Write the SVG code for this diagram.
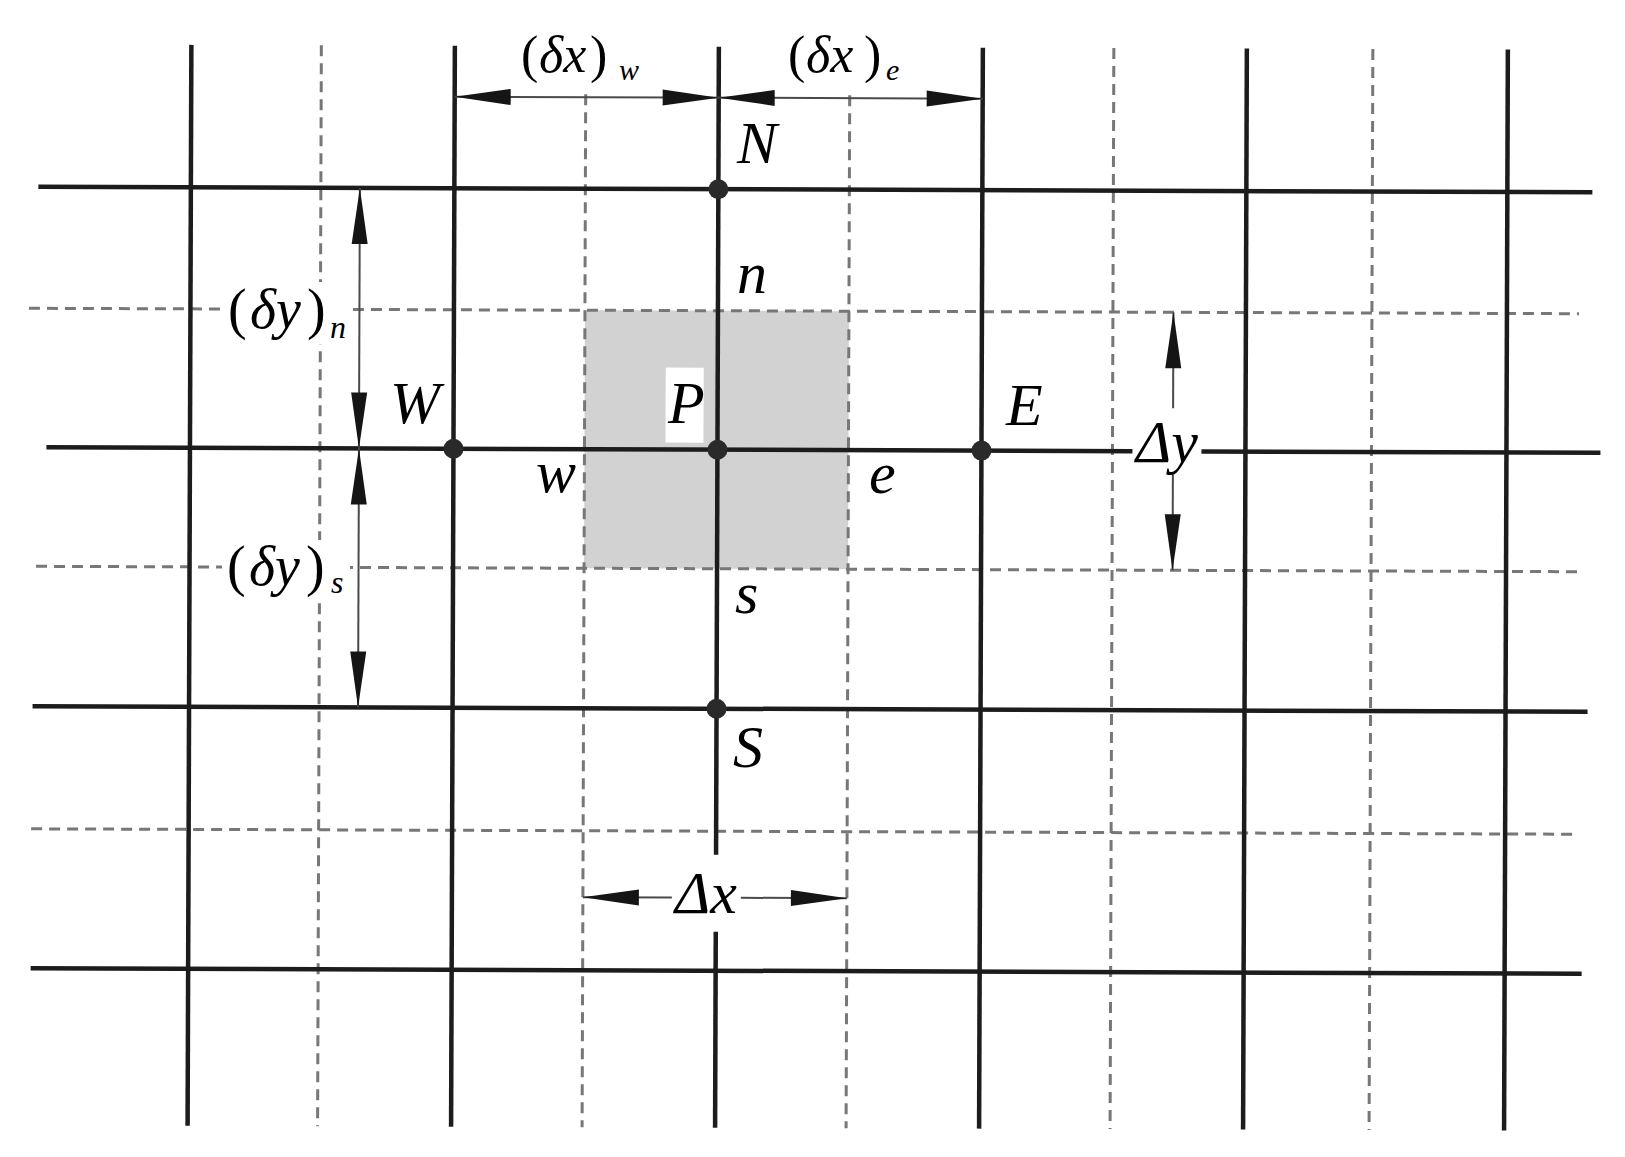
<svg xmlns="http://www.w3.org/2000/svg" width="1625" height="1157" viewBox="0 0 1625 1157">
<rect width="1625" height="1157" fill="#ffffff"/>
<g transform="rotate(0.2 800 580)">
<g id="control-volume">
<rect x="584" y="311" width="264" height="258" fill="#d2d2d2"/>
<rect x="665" y="368" width="38" height="75" fill="#ffffff"/>
</g>
<g id="grid" fill="none">
<g stroke="#777777" stroke-width="3" stroke-dasharray="11 7">
<line x1="319.5" y1="47" x2="319.5" y2="1128"/>
<line x1="584" y1="95" x2="584" y2="1128"/>
<line x1="848" y1="95" x2="848" y2="1128"/>
<line x1="1112" y1="47" x2="1112" y2="1128"/>
<line x1="1371" y1="47" x2="1371" y2="1128"/>
<line x1="28" y1="311" x2="1578" y2="311"/>
<line x1="36" y1="569" x2="1580" y2="569"/>
<line x1="32" y1="831.5" x2="1580" y2="831.5"/>
</g>
<g stroke="#1c1c1c" stroke-width="4.5">
<line x1="189.5" y1="47" x2="189.5" y2="1128"/>
<line x1="453" y1="47" x2="453" y2="1128"/>
<line x1="717" y1="47" x2="717" y2="855"/>
<line x1="717" y1="932" x2="717" y2="1128"/>
<line x1="981" y1="47" x2="981" y2="1128"/>
<line x1="1245" y1="47" x2="1245" y2="1128"/>
<line x1="1506" y1="47" x2="1506" y2="1128"/>
<line x1="37" y1="189.5" x2="1591" y2="189.5"/>
<line x1="46" y1="450" x2="1132" y2="450"/>
<line x1="1201" y1="450" x2="1600" y2="450"/>
<line x1="33" y1="709" x2="1588" y2="709"/>
<line x1="32" y1="971" x2="1583" y2="971"/>
</g>
</g>
<g id="connectors">
<g stroke="#4a4a4a" stroke-width="2" fill="none">
<line x1="453" y1="98" x2="981" y2="98"/>
<line x1="358.5" y1="189.5" x2="358.5" y2="709"/>
<line x1="584" y1="898" x2="673" y2="898"/>
<line x1="742" y1="898" x2="848" y2="898"/>
<line x1="1172.5" y1="311" x2="1172.5" y2="407"/>
<line x1="1172.5" y1="473" x2="1172.5" y2="569"/>
</g>
<g fill="#151515">
<polygon points="453,98 509,90 509,106"/>
<polygon points="717,98 661,90 661,106"/>
<polygon points="717,98 773,90 773,106"/>
<polygon points="981,98 925,90 925,106"/>
<polygon points="358.5,189.5 350.5,245.5 366.5,245.5"/>
<polygon points="358.5,450 350.5,394 366.5,394"/>
<polygon points="358.5,450 350.5,506 366.5,506"/>
<polygon points="358.5,709 350.5,653 366.5,653"/>
<polygon points="584,898 640,890 640,906"/>
<polygon points="848,898 792,890 792,906"/>
<polygon points="1172.5,311 1164.5,367 1180.5,367"/>
<polygon points="1172.5,569 1164.5,513 1180.5,513"/>
</g>
</g>
</g>
<g id="node-N"><circle cx="718.4" cy="189.2" r="10" fill="#2a2a2a"/><text x="737" y="163" font-family="Liberation Serif" font-style="italic" font-size="60">N</text></g>
<g id="node-W"><circle cx="453.5" cy="448.8" r="10" fill="#2a2a2a"/><text x="390" y="423" font-family="Liberation Serif" font-style="italic" font-size="60">W</text></g>
<g id="node-P"><circle cx="717.5" cy="449.7" r="10" fill="#2a2a2a"/><text x="668" y="423" font-family="Liberation Serif" font-style="italic" font-size="60">P</text></g>
<g id="node-E"><circle cx="981.5" cy="450.6" r="10" fill="#2a2a2a"/><text x="1006" y="425" font-family="Liberation Serif" font-style="italic" font-size="60">E</text></g>
<g id="node-S"><circle cx="716.5" cy="708.7" r="10" fill="#2a2a2a"/><text x="733" y="767" font-family="Liberation Serif" font-style="italic" font-size="60">S</text></g>
<g id="face-n"><text x="737" y="293" font-family="Liberation Serif" font-style="italic" font-size="60">n</text></g>
<g id="face-s"><text x="735" y="613" font-family="Liberation Serif" font-style="italic" font-size="60">s</text></g>
<g id="face-w"><text x="536" y="492" font-family="Liberation Serif" font-style="italic" font-size="60">w</text></g>
<g id="face-e"><text x="869" y="493" font-family="Liberation Serif" font-style="italic" font-size="60">e</text></g>
<g id="label-dxw"><text y="72" font-family="Liberation Serif" font-style="italic" font-size="52"><tspan font-style="normal" x="521">(</tspan><tspan x="539">δx</tspan><tspan font-style="normal" x="590">)</tspan><tspan x="619" y="80" font-size="30">w</tspan></text></g>
<g id="label-dxe"><text y="72" font-family="Liberation Serif" font-style="italic" font-size="52"><tspan font-style="normal" x="788">(</tspan><tspan x="806">δx</tspan><tspan font-style="normal" x="864">)</tspan><tspan x="886" y="80" font-size="30">e</tspan></text></g>
<g id="label-dyn"><rect x="224" y="282" width="126" height="62" fill="#ffffff"/><text y="328" font-family="Liberation Serif" font-style="italic" font-size="56"><tspan font-style="normal" x="228">(</tspan><tspan x="250">δy</tspan><tspan font-style="normal" x="307">)</tspan><tspan x="330" y="338" font-size="32">n</tspan></text></g>
<g id="label-dys"><rect x="222" y="540" width="128" height="60" fill="#ffffff"/><text y="585" font-family="Liberation Serif" font-style="italic" font-size="56"><tspan font-style="normal" x="227">(</tspan><tspan x="249">δy</tspan><tspan font-style="normal" x="306">)</tspan><tspan x="331" y="593" font-size="32">s</tspan></text></g>
<g id="label-Dy"><text x="1136" y="462" font-family="Liberation Serif" font-style="italic" font-size="60">Δy</text></g>
<g id="label-Dx"><text x="675" y="913" font-family="Liberation Serif" font-style="italic" font-size="60">Δx</text></g>
</svg>
